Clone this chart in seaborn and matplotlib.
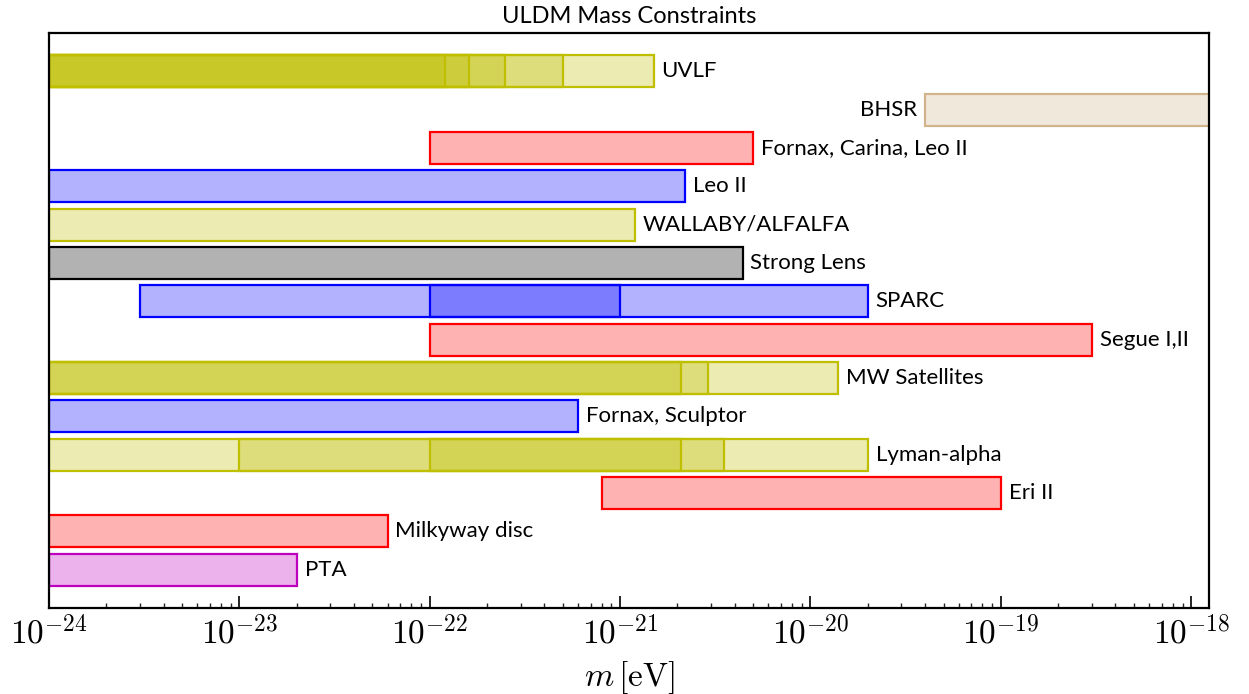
import matplotlib
matplotlib.use("Agg")
import matplotlib.pyplot as plt
import matplotlib.ticker as mticker
import numpy as np
import seaborn as sns
from matplotlib.colors import to_rgba
import pandas as pd

# ---- data (eV) ----
labels = ["PTA", "Milkyway disc", "Eri II", "Lyman-alpha", "Fornax, Sculptor",
          "MW Satellites", "Segue I,II", "SPARC", "Strong Lens", "WALLABY/ALFALFA",
          "Leo II", "Fornax, Carina, Leo II", "BHSR", "UVLF"]
colors = ["#bf00bf", "#ff0000", "#ff0000", "#bfbf00", "#0000ff", "#bfbf00", "#ff0000",
          "#0000ff", "#000000", "#bfbf00", "#0000ff", "#ff0000", "#d2b48c", "#bfbf00"]
# each constraint: list of (lower, upper) ranges drawn as overlapping translucent layers
pta = [(1e-24, 2e-23)]
milkyway_disc = [(1e-24, 6e-23)]
eri_ii = [(8e-22, 1e-19)]
lyman_alpha = [(1e-24, 2e-20), (1e-23, 3.5e-21), (1e-22, 2.1e-21)]
fornax_sculptor = [(1e-24, 6e-22)]
mw_satellites = [(1e-24, 1.4e-20), (1e-24, 2.9e-21), (1e-24, 2.1e-21)]
segue = [(1e-22, 3e-19)]
sparc = [(3e-24, 2e-20), (1e-22, 1e-21)]
strong_lens = [(1e-24, 4.4e-21)]
wallaby = [(1e-24, 1.2e-21)]
leo_ii = [(1e-24, 2.2e-21)]
fornax_carina_leo = [(1e-22, 5e-21)]
bhsr = [(4e-20, 1e-17)]
uvlf = [(1e-24, 1.5e-21), (1e-24, 5e-22), (1e-24, 2.5e-22), (1e-24, 1.6e-22), (1e-24, 1.2e-22)]
ranges = [pta, milkyway_disc, eri_ii, lyman_alpha, fornax_sculptor, mw_satellites,
          segue, sparc, strong_lens, wallaby, leo_ii, fornax_carina_leo, bhsr, uvlf]
label_left = ["BHSR"]

rows = []
for i, (lab, col, rr) in enumerate(zip(labels, colors, ranges)):
    for lo, hi in rr:
        rows.append(dict(row=i, label=lab, color=col, lo=lo, hi=hi))
df = pd.DataFrame(rows)

sns.set_theme(style="white", color_codes=False)
plt.rcParams["font.family"] = ["Lato", "DejaVu Sans"]
plt.rcParams["mathtext.fontset"] = "cm"
plt.rcParams["text.color"] = "black"
plt.rcParams["axes.labelcolor"] = "black"

fig = plt.figure(figsize=(12.49, 6.94), dpi=100)
ax = fig.add_axes([49 / 1249, 1 - 608 / 694, 1160 / 1249, 575 / 694])
ax.set_xscale("log")

for _, r in df.iterrows():
    ax.barh(r["row"], r["hi"] - r["lo"], left=r["lo"], height=0.83,
            facecolor=to_rgba(r["color"], 0.3), edgecolor=r["color"], linewidth=1.6)

for i, (lab, rr) in enumerate(zip(labels, ranges)):
    if lab in label_left:
        x = min(lo for lo, hi in rr)
        ax.text(x / 1.1, i, lab, ha="right", va="center", fontsize=16, color="black")
    else:
        x = max(hi for lo, hi in rr)
        ax.text(x * 1.1, i, lab, ha="left", va="center", fontsize=16, color="black")

ax.set_xlim(1e-24, 1.24e-18)
ax.set_ylim(-1, 14)
ax.set_yticks([])
ax.xaxis.set_major_locator(mticker.LogLocator(base=10, numticks=20))
ax.xaxis.set_major_formatter(
    mticker.FuncFormatter(lambda v, p: rf"$10^{{{int(round(np.log10(v)))}}}$"))
ax.set_title("ULDM Mass Constraints", fontsize=17, pad=7, color="black")
ax.set_xlabel(r"$m\,[\mathrm{eV}]$", fontsize=24, labelpad=6)
ax.tick_params(axis="x", which="major", direction="in", length=9, width=1.2,
               labelsize=24, bottom=True, pad=5, colors="black")
ax.tick_params(axis="x", which="minor", direction="in", length=3.5, width=1.0, bottom=True)
for s in ax.spines.values():
    s.set_linewidth(1.6)
    s.set_color("black")

fig.savefig("out.png", dpi=100)
